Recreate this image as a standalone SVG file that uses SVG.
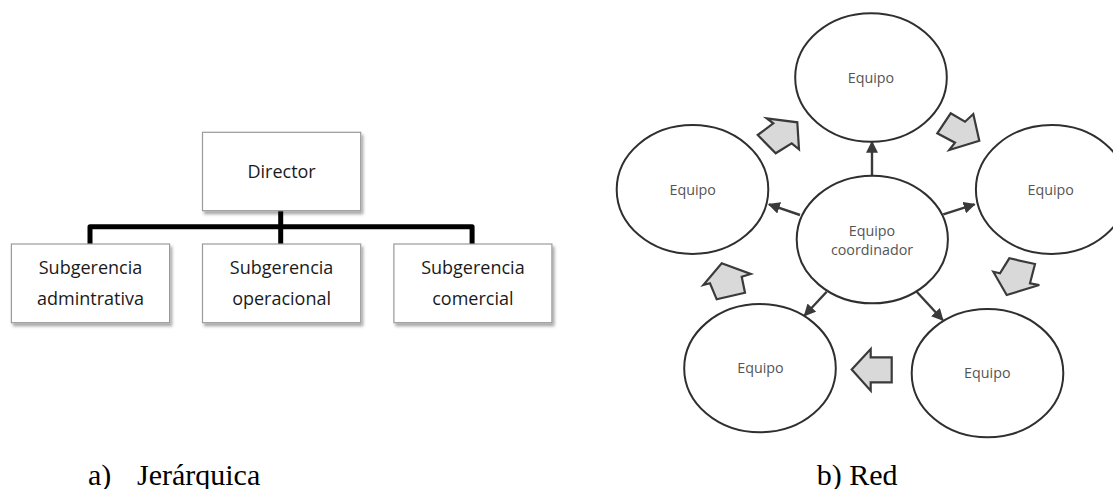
<svg xmlns="http://www.w3.org/2000/svg" width="1113" height="489" viewBox="0 0 1113 489">
<style>
.box{fill:#ffffff;stroke:#9a9a9a;stroke-width:1.2;filter:url(#sh)}
.bt{font-family:"Open Sans","Liberation Sans",sans-serif;font-size:18px;fill:#1a1a1a;text-anchor:middle}
.ell{fill:#ffffff;stroke:#2f2f2f;stroke-width:2}
.et{font-family:"Open Sans","Liberation Sans",sans-serif;font-size:14.3px;fill:#555555;text-anchor:middle}
.thin{stroke:#3a3a3a;stroke-width:2.4;fill:none;marker-end:url(#ah)}
.blk{fill:#d9d9d9;stroke:#3a3a3a;stroke-width:2.2;stroke-linejoin:miter}
.tree{stroke:#000;stroke-width:5;fill:none;stroke-linejoin:round;stroke-linecap:butt}
.cap{font-family:"Liberation Serif","Times New Roman",serif;font-size:30px;fill:#000}
</style>
<defs>
<filter id="sh" x="-10%" y="-10%" width="130%" height="140%">
<feDropShadow dx="2" dy="3" stdDeviation="1.6" flood-color="#000" flood-opacity="0.35"/>
</filter>
<marker id="ah" markerUnits="userSpaceOnUse" markerWidth="12" markerHeight="12" viewBox="0 0 10 10" refX="9" refY="5" orient="auto">
<path d="M0,0 L10,5 L0,10 z" fill="#3a3a3a"/>
</marker>
</defs>
<rect width="1113" height="489" fill="#ffffff"/>

<g id="connectors">
<path class="tree" d="M90,246 V226.7 H472.1 V246"/>
<path class="tree" d="M280.7,209 V246"/>
<line class="thin" x1="872" y1="176" x2="872" y2="142"/>
<line class="thin" x1="800" y1="215" x2="769" y2="204.3"/>
<line class="thin" x1="943.3" y1="214.3" x2="974.5" y2="204.3"/>
<line class="thin" x1="826.7" y1="291.7" x2="804.5" y2="315.5"/>
<line class="thin" x1="916.7" y1="291.7" x2="942.8" y2="320"/>
</g>

<g id="director"><rect class="box" x="202.5" y="132.3" width="158.2" height="78.4"/><text class="bt" x="281.6" y="177.5">Director</text></g>
<g id="sub-adm"><rect class="box" x="11.4" y="244" width="158.2" height="78.7"/><text class="bt" x="90.5" y="274">Subgerencia</text><text class="bt" x="90.5" y="305">admintrativa</text></g>
<g id="sub-ope"><rect class="box" x="202.5" y="244" width="158.2" height="78.7"/><text class="bt" x="281.6" y="274">Subgerencia</text><text class="bt" x="281.6" y="305">operacional</text></g>
<g id="sub-com"><rect class="box" x="393.9" y="244" width="158" height="78.7"/><text class="bt" x="472.9" y="274">Subgerencia</text><text class="bt" x="472.9" y="305">comercial</text></g>

<g id="equipo-top"><ellipse class="ell" cx="871" cy="77.5" rx="75.8" ry="64.2"/><text class="et" x="871" y="83.3">Equipo</text></g>
<g id="equipo-left"><ellipse class="ell" cx="692.5" cy="189.5" rx="75.8" ry="64.5"/><text class="et" x="692.7" y="195">Equipo</text></g>
<g id="equipo-right"><ellipse class="ell" cx="1051.7" cy="189.5" rx="75.8" ry="64.5"/><text class="et" x="1050.7" y="195">Equipo</text></g>
<g id="equipo-coordinador"><ellipse class="ell" cx="872.3" cy="239.5" rx="75.6" ry="63.8"/><text class="et" x="872" y="236">Equipo</text><text class="et" x="872" y="254.5">coordinador</text></g>
<g id="equipo-bottom-left"><ellipse class="ell" cx="760" cy="368.2" rx="75.8" ry="64.1"/><text class="et" x="760.5" y="373.3">Equipo</text></g>
<g id="equipo-bottom-right"><ellipse class="ell" cx="987.5" cy="373.2" rx="75.8" ry="64.1"/><text class="et" x="987.3" y="378.3">Equipo</text></g>

<g id="block-arrows">
<polygon class="blk" points="766.7,118.3 797.3,122.3 799,149.3 791.7,143.3 775.7,153.3 757.7,135 773.3,123.3"/>
<polygon class="blk" points="937.3,133.3 950.7,113.3 965,121.7 973.3,114 979.3,140.7 949.3,150 955,142.7"/>
<polygon class="blk" points="993.3,271.7 1000,273.3 1009.3,258.3 1035,264 1030,283.3 1039.3,285 1006.7,295"/>
<polygon class="blk" points="851.7,369.5 870.7,349 870.7,357.3 891.7,357.3 891.7,382.3 870.7,382.3 870.7,390.7"/>
<polygon class="blk" points="703.3,285 710,283.3 716.7,299.3 745,292.7 741.7,276.7 750.7,274 721.7,263.3"/>
</g>

<text class="cap" y="485"><tspan x="88">a)</tspan><tspan x="137">Jerárquica</tspan></text>
<text class="cap" x="816.7" y="485">b) Red</text>
</svg>
